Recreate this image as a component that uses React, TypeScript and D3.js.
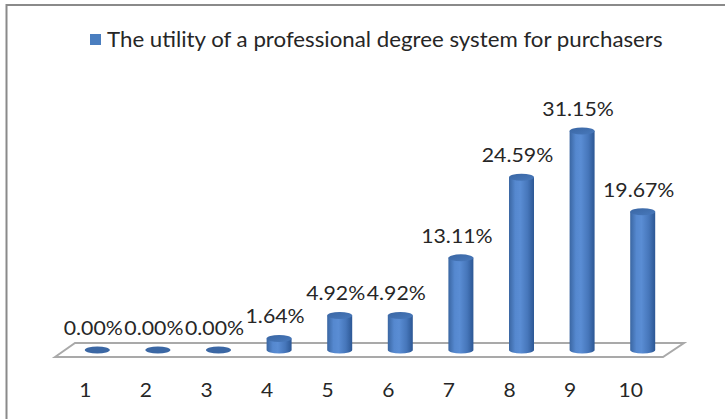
import React, { useEffect, useRef } from "react";
import * as d3 from "d3";

// chart data
const categories = ["1", "2", "3", "4", "5", "6", "7", "8", "9", "10"];
const values = [0, 0, 0, 0.0164, 0.0492, 0.0492, 0.1311, 0.2459, 0.3115, 0.1967];
const seriesName = "The utility of a professional degree system for purchasers";

const W = 725;
const H = 419;
const FONT = "Lato, 'Open Sans', sans-serif";

// widen text a little, the source font runs wider than Lato
function stretch(sel: d3.Selection<SVGTextElement, any, any, any>, k: number) {
  sel.each(function () {
    const len = this.getComputedTextLength();
    d3.select(this).attr("textLength", len * k).attr("lengthAdjust", "spacingAndGlyphs");
  });
}

const App = () => {
  const ref = useRef<SVGSVGElement>(null);

  useEffect(() => {
    const svg = d3.select(ref.current);
    svg.selectAll("*").remove();

    const defs = svg.append("defs");
    const body = defs.append("linearGradient").attr("id", "cylBody")
      .attr("x1", "0%").attr("x2", "100%").attr("y1", "0%").attr("y2", "0%");
    [["0%", "#3a66a2"], ["25%", "#5588cf"], ["45%", "#5a8dd4"], ["75%", "#4676ba"], ["100%", "#2c5794"]]
      .forEach(([o, c]) => body.append("stop").attr("offset", o).attr("stop-color", c));
    const top = defs.append("linearGradient").attr("id", "cylTop")
      .attr("x1", "0%").attr("x2", "100%").attr("y1", "0%").attr("y2", "100%");
    [["0%", "#3a66a3"], ["100%", "#4879bc"]]
      .forEach(([o, c]) => top.append("stop").attr("offset", o).attr("stop-color", c));

    // outer frame
    svg.append("rect")
      .attr("x", 6.5).attr("y", 5).attr("width", W + 20).attr("height", H + 20)
      .attr("fill", "#fff").attr("stroke", "#8a8a8a").attr("stroke-width", 2);

    const x = d3.scaleBand<string>().domain(categories).range([67, 673]).padding(0);
    const xFront = d3.scaleBand<string>().domain(categories).range([55, 661]).padding(0);
    const y = d3.scaleLinear().domain([0, 0.35]).range([350, 104]);

    const rx = 12.5;
    const ry = 3.5;
    const y0 = y(0);
    const [r0, r1] = x.range();

    // floor
    const floor = [
      [r0 - 12, y0 + 7],
      [r0 + 8, y0 - 7],
      [r1 + 11, y0 - 7],
      [r1 - 10, y0 + 7],
    ];
    svg.append("polygon")
      .attr("points", floor.map(p => p.join(",")).join(" "))
      .attr("fill", "#fff")
      .attr("stroke", "#a9a9a9")
      .attr("stroke-width", 2)
      .attr("stroke-linejoin", "miter");

    const data = categories.map((c, i) => ({ c, v: values[i] }));
    const cx = (c: string) => (x(c) as number) + x.bandwidth() / 2;

    const bars = svg.append("g").selectAll("g").data(data).enter().append("g");

    bars.filter(d => d.v > 0).append("path")
      .attr("d", d => {
        const c = cx(d.c);
        const yt = y(d.v);
        return `M${c - rx},${yt} L${c - rx},${y0} A${rx},${ry} 0 0 0 ${c + rx},${y0} L${c + rx},${yt} Z`;
      })
      .attr("fill", "url(#cylBody)");

    bars.append("ellipse")
      .attr("cx", d => cx(d.c))
      .attr("cy", d => y(d.v))
      .attr("rx", rx)
      .attr("ry", ry)
      .attr("fill", d => (d.v > 0 ? "url(#cylTop)" : "#3b67a4"));

    // value labels
    const fmt = d3.format(".2%");
    const vl = svg.append("g").selectAll("text").data(data).enter().append("text")
      .attr("x", d => cx(d.c) - 4)
      .attr("y", d => y(d.v) - 15)
      .attr("text-anchor", "middle")
      .attr("font-family", FONT)
      .attr("font-size", 19)
      .attr("fill", "#262626")
      .text(d => fmt(d.v));
    stretch(vl as any, 1.12);

    // category labels
    const cl = svg.append("g").selectAll("text").data(categories).enter().append("text")
      .attr("x", c => (xFront(c) as number) + xFront.bandwidth() / 2)
      .attr("y", 397)
      .attr("text-anchor", "middle")
      .attr("font-family", FONT)
      .attr("font-size", 20)
      .attr("fill", "#262626")
      .text(c => c);
    stretch(cl as any, 1.05);

    // legend
    const lg = svg.append("g");
    lg.append("rect").attr("x", 90).attr("y", 34).attr("width", 11).attr("height", 11)
      .attr("fill", "#4a7ebf");
    const lt = lg.append("text")
      .attr("x", 107).attr("y", 47)
      .attr("font-family", FONT)
      .attr("font-size", 21)
      .attr("fill", "#262626")
      .text(seriesName);
    const len = (lt.node() as SVGTextElement).getComputedTextLength();
    lt.attr("textLength", len * 1.06).attr("lengthAdjust", "spacingAndGlyphs");
  }, []);

  return (
    <svg ref={ref} width={W} height={H}
      style={{ position: "absolute", left: 0, top: 0, background: "#fff" }} />
  );
};

export default App;
